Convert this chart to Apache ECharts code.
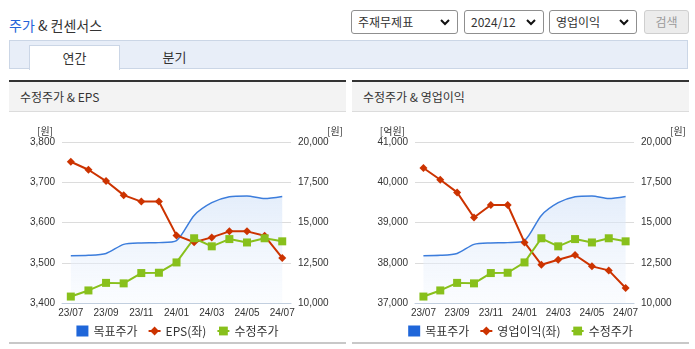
<!DOCTYPE html>
<html><head><meta charset="utf-8">
<script src="https://cdn.jsdelivr.net/npm/echarts@6/dist/echarts.min.js"></script>
<style>
html,body{margin:0;padding:0;background:#fff;width:695px;height:349px;overflow:hidden;font-family:"Noto Sans CJK KR","Noto Sans",sans-serif;color:#333;}
.abs{position:absolute;}
.hdr{left:9px;top:15px;font-size:14px;line-height:20px;white-space:nowrap;}
.hdr .b{color:#2463d8;}
.sel{top:10px;height:22px;border:1px solid #8f8f8f;border-radius:3px;background:#fff;font-size:12px;line-height:22px;padding-left:6px;box-sizing:content-box;white-space:nowrap;}
.sel svg{position:absolute;right:7px;top:8px;}
.btn{left:644px;top:10px;width:43px;height:22px;border:1px solid #cfcfcf;border-radius:3px;background:#ececec;color:#9a9a9a;font-size:12px;line-height:22px;text-align:center;}
.tabbar{left:9px;top:40px;width:677px;height:27px;background:#e8eef8;border:1px solid #cbd6e6;}
.tab{left:29px;top:45px;width:89px;height:24px;background:#fff;border:1px solid #cbd6e6;border-bottom:none;font-size:13px;line-height:24px;text-align:center;}
.tab2{left:130px;top:45px;width:89px;height:24px;font-size:13px;line-height:24px;text-align:center;}
.ptop{top:80px;height:2px;background:#333;width:337px;}
.ptitle{top:82px;height:29px;background:#f3f3f3;border-bottom:1px solid #dcdcdc;width:337px;font-size:12px;line-height:30px;text-indent:11px;white-space:nowrap;}
.pbot{top:342px;height:2px;background:#c8c8c8;width:337px;}
.chart{top:113px;width:337px;height:229px;}
</style></head>
<body>
<div class="abs hdr"><span class="b">주가</span> &amp; 컨센서스</div>
<div class="abs sel" style="left:351px;width:99px;">주재무제표<svg width="10" height="7" viewBox="0 0 10 7"><path d="M1 1 L5 5 L9 1" stroke="#111" stroke-width="2" fill="none"/></svg></div>
<div class="abs sel" style="left:464px;width:72px;">2024/12<svg width="10" height="7" viewBox="0 0 10 7"><path d="M1 1 L5 5 L9 1" stroke="#111" stroke-width="2" fill="none"/></svg></div>
<div class="abs sel" style="left:549px;width:80px;">영업이익<svg width="10" height="7" viewBox="0 0 10 7"><path d="M1 1 L5 5 L9 1" stroke="#111" stroke-width="2" fill="none"/></svg></div>
<div class="abs btn">검색</div>
<div class="abs tabbar"></div>
<div class="abs tab">연간</div>
<div class="abs tab2">분기</div>

<div class="abs ptop" style="left:9px;"></div>
<div class="abs ptitle" style="left:9px;">수정주가 &amp; EPS</div>
<div class="abs chart" id="c1" style="left:9px;"></div>
<div class="abs pbot" style="left:9px;"></div>

<div class="abs ptop" style="left:352px;"></div>
<div class="abs ptitle" style="left:352px;">수정주가 &amp; 영업이익</div>
<div class="abs chart" id="c2" style="left:352px;"></div>
<div class="abs pbot" style="left:352px;"></div>

<script>
// ---- data ----
var categories = ['23/07','23/08','23/09','23/10','23/11','23/12','24/01','24/02','24/03','24/04','24/05','24/06','24/07'];
var targetPrice = [12940, 12960, 13080, 13640, 13730, 13750, 13880, 15440, 16230, 16600, 16650, 16490, 16620];
var adjPrice = [10400, 10780, 11250, 11220, 11860, 11880, 12520, 14020, 13520, 13970, 13760, 14020, 13830];
var eps = [3751, 3731, 3703, 3668, 3652, 3652, 3568, 3551, 3563, 3578, 3578, 3567, 3512];
var opProfit = [40354, 40063, 39748, 39124, 39435, 39435, 38506, 37952, 38076, 38193, 37910, 37810, 37373];
var priceAxis = {min: 10000, max: 20000, interval: 2500};
var epsAxis = {min: 3400, max: 3800, interval: 100};
var opAxis = {min: 37000, max: 41000, interval: 1000};
var seriesNames = ['목표주가', '수정주가'];

var numFont = '"Liberation Sans Narrow","Liberation Sans",sans-serif';
function fmt(v){ return v.toLocaleString('en-US'); }

function build(el, leftName, leftAxis, leftSeriesName, leftData, gridLeft, leftNamePad){
  var chart = echarts.init(document.getElementById(el), null, {renderer:'canvas'});
  chart.setOption({
    animation:false,
    grid:{left:gridLeft, width: (el==='c1'?230:220), top:29, height:161},
    legend:{
      top:207, left:'center',
      itemWidth:12, itemHeight:11, itemGap:10,
      textStyle:{fontSize:12, color:'#333', fontFamily:'"Noto Sans CJK KR",sans-serif'},
      data:[{name:seriesNames[0], icon:'rect', itemStyle:{color:'#1f66d9'}}, leftSeriesName, seriesNames[1]]
    },
    xAxis:{
      type:'category', data:categories, boundaryGap:true,
      axisLine:{lineStyle:{color:'#c2cfdf', width:1}},
      axisTick:{length:4, lineStyle:{color:'#c2cfdf'}, interval:function(i){return i===0 || i%2===1;}},
      axisLabel:{interval:1, margin:5, fontSize:10, color:'#333', fontFamily:numFont},
      splitLine:{show:false}
    },
    yAxis:[
      {type:'value', position:'left', min:leftAxis.min, max:leftAxis.max, interval:leftAxis.interval,
       name:leftName, nameLocation:'end', nameGap:6,
       nameTextStyle:{fontSize:10, color:'#333', align:'right', padding:[0,leftNamePad,0,0], fontFamily:'"Noto Sans CJK KR",sans-serif'},
       axisLine:{show:false}, axisTick:{show:false},
       axisLabel:{margin:7, fontSize:10, color:'#333', fontFamily:numFont, formatter:fmt},
       splitLine:{lineStyle:{color:'#dcdcdc'}}},
      {type:'value', position:'right', min:priceAxis.min, max:priceAxis.max, interval:priceAxis.interval,
       name:'[원]', nameLocation:'end', nameGap:6,
       nameTextStyle:{fontSize:10, color:'#333', align:'left', padding:[0,0,0,36], fontFamily:'"Noto Sans CJK KR",sans-serif'},
       axisLine:{show:false}, axisTick:{show:false},
       axisLabel:{margin:7, fontSize:10, color:'#333', fontFamily:numFont, formatter:fmt},
       splitLine:{show:false}}
    ],
    series:[
      {name:seriesNames[0], type:'line', yAxisIndex:1, data:targetPrice, smooth:0.25, showSymbol:false, symbol:'none',
       lineStyle:{color:'#3c7ddc', width:1.5}, itemStyle:{color:'#1f66d9'},
       areaStyle:{color:new echarts.graphic.LinearGradient(0,0,0,1,[{offset:0,color:'rgba(210,226,248,0.85)'},{offset:1,color:'rgba(244,248,254,0.6)'}])}},
      {name:leftSeriesName, type:'line', yAxisIndex:0, data:leftData, symbol:'diamond', symbolSize:8,
       lineStyle:{color:'#cc3300', width:2}, itemStyle:{color:'#cc3300'}},
      {name:seriesNames[1], type:'line', yAxisIndex:1, data:adjPrice, symbol:'rect', symbolSize:8,
       lineStyle:{color:'#88c01c', width:2}, itemStyle:{color:'#88c01c'}}
    ]
  });
}
build('c1', '[원]', epsAxis, 'EPS(좌)', eps, 53, 9);
build('c2', '[억원]', opAxis, '영업이익(좌)', opProfit, 63, 10);
</script>
</body></html>
